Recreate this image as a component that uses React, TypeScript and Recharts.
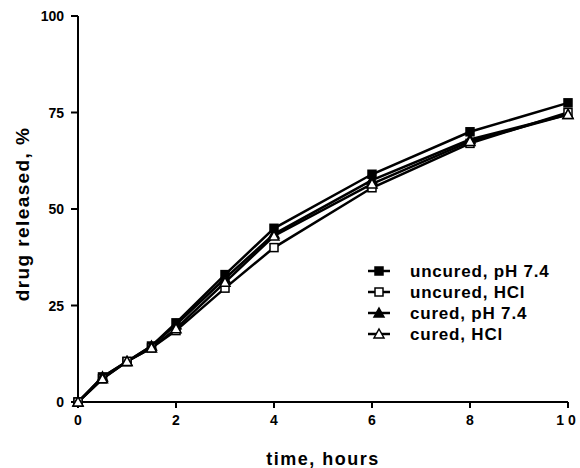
import { LineChart, Line, XAxis, YAxis, Label } from 'recharts';

const hours = [0, 0.5, 1, 1.5, 2, 3, 4, 6, 8, 10];
const uncuredPh = [0, 6.5, 10.5, 14.5, 20.5, 33, 45, 59, 70, 77.5];
const uncuredHcl = [0, 6, 10.5, 14, 18.5, 29.5, 40, 55.5, 67, 75];
const curedPh = [0, 6.5, 10.5, 14.5, 20, 32, 43.5, 57.5, 68, 74.5];
const curedHcl = [0, 6, 10.5, 14, 19, 31, 43, 56.5, 67.5, 74.5];
const xTicks = [0, 2, 4, 6, 8, 10];
const yTicks = [0, 25, 50, 75, 100];

const data = hours.map((h, i) => ({
  h,
  uncuredPh: uncuredPh[i],
  uncuredHcl: uncuredHcl[i],
  curedPh: curedPh[i],
  curedHcl: curedHcl[i],
}));

const FONT = '"Liberation Sans", Arial, sans-serif';
const INK = '#000';

type Shape = 'square' | 'triangle';

function marker(shape: Shape, filled: boolean, cx: number, cy: number, key?: string) {
  const fill = filled ? INK : '#fff';
  if (shape === 'square') {
    return <rect key={key} x={cx - 4} y={cy - 4} width={8} height={8} fill={fill} stroke={INK} strokeWidth={1.5} />;
  }
  return (
    <polygon
      key={key}
      points={`${cx},${cy - 5} ${cx + 5},${cy + 4} ${cx - 5},${cy + 4}`}
      fill={fill}
      stroke={INK}
      strokeWidth={1.5}
    />
  );
}

const dotFor = (shape: Shape, filled: boolean) => (p: any) =>
  marker(shape, filled, p.cx, p.cy, `${shape}-${filled}-${p.index}`);

const series = [
  { key: 'uncuredPh', name: 'uncured, pH 7.4', shape: 'square' as Shape, filled: true },
  { key: 'uncuredHcl', name: 'uncured, HCl', shape: 'square' as Shape, filled: false },
  { key: 'curedPh', name: 'cured, pH 7.4', shape: 'triangle' as Shape, filled: true },
  { key: 'curedHcl', name: 'cured, HCl', shape: 'triangle' as Shape, filled: false },
];

const tickStyle = { fontSize: 14, fontWeight: 700, fill: INK, fontFamily: FONT };
const titleStyle = { fontSize: 18, fontWeight: 700, fill: INK, fontFamily: FONT };

function XTick({ x, y, payload }: any) {
  return (
    <text x={x} y={y + 15} textAnchor="middle" style={tickStyle} letterSpacing={payload.value === 10 ? 4 : 0}>
      {payload.value}
    </text>
  );
}

function YTick({ x, y, payload }: any) {
  return (
    <text x={x - 5} y={y} textAnchor="end" dominantBaseline="central" style={tickStyle}>
      {payload.value}
    </text>
  );
}

// rotated y title, placed a bit lower than the plot centre like the original
const YTitle = () => (
  <text
    x={22}
    y={214}
    transform="rotate(-90, 22, 214)"
    textAnchor="middle"
    dominantBaseline="central"
    letterSpacing={1.4}
    style={{ ...titleStyle, fontSize: 19 }}
  >
    drug released, %
  </text>
);

function LegendBox() {
  return (
    <svg width={220} height={90} style={{ position: 'absolute', left: 362, top: 260 }}>
      {series.map((s, i) => {
        const y = 11 + i * 21;
        return (
          <g key={s.key}>
            <line x1={6} x2={28} y1={y} y2={y} stroke={INK} strokeWidth={2.5} />
            {marker(s.shape, s.filled, 17, y)}
            <text x={48} y={y + 6} letterSpacing={0.8} style={{ ...titleStyle, fontSize: 17 }}>
              {s.name}
            </text>
          </g>
        );
      })}
    </svg>
  );
}

export default function App() {
  return (
    <div style={{ position: 'absolute', left: 0, top: 0, width: 580, height: 468, background: '#fff' }}>
      <LineChart width={580} height={468} data={data} margin={{ top: 16, right: 12, bottom: 0, left: 28 }}>
        <XAxis
          dataKey="h"
          type="number"
          domain={[0, 10]}
          ticks={xTicks}
          tick={<XTick />}
          tickSize={6}
          axisLine={{ stroke: INK, strokeWidth: 2 }}
          tickLine={{ stroke: INK, strokeWidth: 2 }}
          height={66}
        >
          <Label value="time, hours" position="insideBottom" offset={3} letterSpacing={1.5} style={titleStyle} />
        </XAxis>
        <YAxis
          type="number"
          domain={[0, 100]}
          ticks={yTicks}
          tick={<YTick />}
          tickSize={7}
          width={50}
          axisLine={{ stroke: INK, strokeWidth: 2 }}
          tickLine={{ stroke: INK, strokeWidth: 2 }}
        >
          <Label content={<YTitle />} />
        </YAxis>
        {series.map((s) => (
          <Line
            key={s.key}
            dataKey={s.key}
            name={s.name}
            type="linear"
            stroke={INK}
            strokeWidth={2.5}
            dot={dotFor(s.shape, s.filled)}
            activeDot={false}
            isAnimationActive={false}
          />
        ))}
      </LineChart>
      <LegendBox />
    </div>
  );
}
